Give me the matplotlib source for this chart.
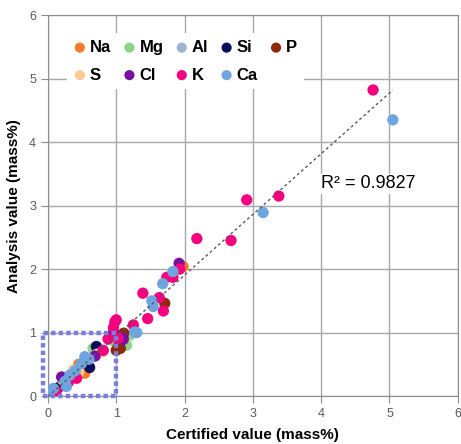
import matplotlib.pyplot as plt
import numpy as np
from matplotlib.patches import Rectangle

plt.rcParams['font.family'] = ['Liberation Sans', 'DejaVu Sans']

# certified value / analysis value (mass%) for each element
na_cert = [0.12, 0.30, 0.54, 0.45, 1.05, 1.98, 0.75]
na_anal = [0.10, 0.28, 0.36, 0.50, 0.85, 2.04, 0.70]
mg_cert = [0.08, 0.66, 0.93, 1.20, 0.35, 1.15]
mg_anal = [0.08, 0.75, 0.88, 0.96, 0.35, 0.80]
al_cert = [0.10, 0.50, 0.95, 0.20]
al_anal = [0.07, 0.50, 0.93, 0.18]
si_cert = [0.71, 0.61, 0.15, 0.04]
si_anal = [0.78, 0.45, 0.13, 0.03]
p_cert = [1.11, 1.03, 1.00, 1.71, 1.06]
p_anal = [0.99, 0.78, 0.72, 1.46, 0.75]
s_cert = [0.37, 0.72, 0.22, 0.45, 0.80]
s_anal = [0.41, 0.66, 0.25, 0.38, 0.70]
cl_cert = [0.20, 0.69, 0.96, 1.10, 1.92, 1.10, 0.05]
cl_anal = [0.30, 0.63, 1.01, 0.89, 2.09, 0.91, 0.06]
k_cert = [4.76, 3.38, 2.91, 2.18, 2.68, 1.93, 1.74, 1.83, 1.39, 1.63, 1.69,
          1.46, 1.25, 1.00, 0.96, 0.98, 1.03, 0.81, 0.42, 0.30, 0.12, 0.88]
k_anal = [4.82, 3.15, 3.09, 2.48, 2.45, 2.00, 1.87, 1.87, 1.62, 1.55, 1.34,
          1.22, 1.12, 1.20, 1.08, 1.17, 0.91, 0.72, 0.28, 0.22, 0.08, 0.90]
ca_cert = [5.05, 3.15, 1.83, 1.68, 1.52, 1.54, 1.30, 1.27, 0.54, 0.49, 0.32,
           0.25, 0.27, 0.08, 0.00, 0.60, 0.40]
ca_anal = [4.35, 2.89, 1.96, 1.77, 1.50, 1.41, 1.00, 1.01, 0.62, 0.51, 0.33,
           0.23, 0.15, 0.12, 0.04, 0.58, 0.40]

elements = ['Na', 'Mg', 'Al', 'Si', 'P', 'S', 'Cl', 'K', 'Ca']
certs = [na_cert, mg_cert, al_cert, si_cert, p_cert, s_cert, cl_cert, k_cert, ca_cert]
anals = [na_anal, mg_anal, al_anal, si_anal, p_anal, s_anal, cl_anal, k_anal, ca_anal]
colors = ['#F47B2A', '#8FD38A', '#9DB3CF', '#0A0A5E', '#8E2A08',
          '#FFC992', '#7A10A0', '#F5007E', '#6FA5DF']
r2_text = 'R² = 0.9827'
ticks = [0, 1, 2, 3, 4, 5, 6]

fig = plt.figure(figsize=(4.61, 4.44), dpi=100)
ax = fig.add_axes([0.104, 0.108, 0.889, 0.858])

handles = []
for el, xs, ys, c in zip(elements, certs, anals, colors):
    h = ax.scatter(xs, ys, s=66, color=c, edgecolors='none', label=el, zorder=3)
    handles.append(h)

# linear trend line over all points
allx = np.concatenate([np.array(v) for v in certs])
ally = np.concatenate([np.array(v) for v in anals])
k, b = np.polyfit(allx, ally, 1)
xl = np.array([allx.min(), allx.max()])
ax.plot(xl, k * xl + b, color='#595959', lw=1.0, ls=(0, (2, 2)), zorder=4)

ax.text(4.0, 3.34, r2_text, fontsize=13, va='center', ha='left',
        bbox=dict(facecolor='white', edgecolor='none', pad=1), zorder=2)

# dotted box around the low range
ax.add_patch(Rectangle((-0.07, 0), 1.07, 1.0, fill=False, edgecolor='#7B7FDB',
                       lw=3.2, ls=(0, (1, 0.7)), clip_on=False, zorder=5))

ax.set_xlim(0, 6)
ax.set_ylim(0, 6)
ax.set_xticks(ticks)
ax.set_yticks(ticks)
ax.grid(color='#A8A8A8', lw=1.0, zorder=0)
ax.set_axisbelow(True)
for sp in ax.spines.values():
    sp.set_color('#8C8C8C')
ax.tick_params(colors='#8C8C8C', labelcolor='#595959', labelsize=9, length=5)

ax.set_xlabel('Certified value (mass%)', fontsize=11, fontweight='bold', labelpad=6)
ax.set_ylabel('Analysis value (mass%)', fontsize=11, fontweight='bold', labelpad=6)

order = [0, 5, 1, 6, 2, 7, 3, 8, 4]
leg = ax.legend([handles[i] for i in order], [elements[i] for i in order],
                ncol=5, loc='upper left', bbox_to_anchor=(0.025, 0.974),
                prop={'size': 12, 'weight': 'bold'}, handlelength=0.8,
                handletextpad=0.2, columnspacing=0.7, labelspacing=0.75,
                borderpad=0.4, scatterpoints=1, markerscale=0.9, fancybox=False)
leg.get_frame().set_edgecolor('none')
leg.get_frame().set_facecolor('white')
leg.get_frame().set_alpha(1)

plt.savefig('out.png', dpi=100)
